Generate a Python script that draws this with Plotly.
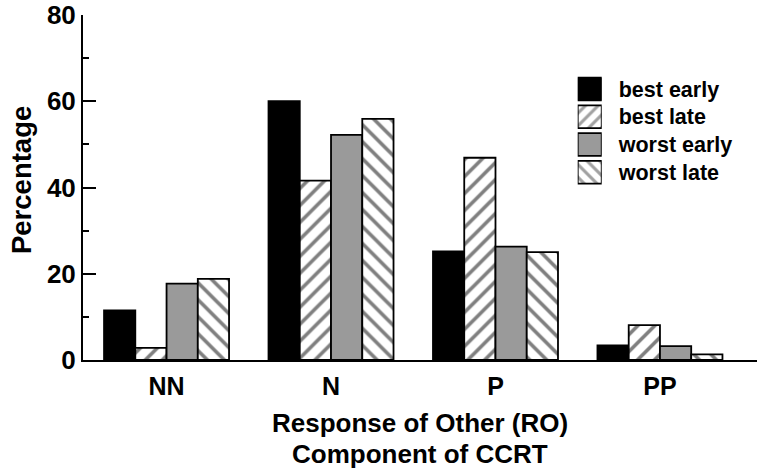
import plotly.graph_objects as go

# Response-of-Other components and the share (%) in each condition
categories = ["NN", "N", "P", "PP"]
series_names = ["best early", "best late", "worst early", "worst late"]
best_early = [11.5, 60.0, 25.2, 3.4]
best_late = [2.8, 41.6, 46.9, 8.1]
worst_early = [17.7, 52.2, 26.3, 3.2]
worst_late = [18.8, 55.9, 25.0, 1.3]
y_ticks = [0, 20, 40, 60, 80]
x_title_lines = ["Response of Other (RO)", "Component of CCRT"]
y_title = "Percentage"

values = [best_early, best_late, worst_early, worst_late]
fills = ["black", "white", "#9a9a9a", "white"]
patterns = ["", "/", "", "\\"]

FONT = "Liberation Sans, Arial, Helvetica, sans-serif"

fig = go.Figure()

for name, vals, fill, pat in zip(series_names, values, fills, patterns):
    fig.add_trace(go.Bar(
        x=categories, y=vals, name=name, showlegend=False,
        marker=dict(
            color=fill,
            line=dict(color="black", width=1.8),
            pattern=dict(shape=pat, fgcolor="black", bgcolor="white",
                         size=12, solidity=0.3, fillmode="overlay"),
        ),
    ))

# Key drawn as large swatches on a small inset axis, names as its tick labels
fig.add_trace(go.Bar(
    x=[1, 1, 1, 1], y=series_names, orientation="h",
    xaxis="x2", yaxis="y2", showlegend=False, width=0.82,
    marker=dict(
        color=fills,
        line=dict(color="black", width=1.8),
        pattern=dict(shape=patterns, fgcolor="black", bgcolor="white",
                     size=9, solidity=0.35, fillmode="overlay"),
    ),
    hoverinfo="skip",
))

# Two-line x-axis title, one annotation per line
for line_text, ypos in zip(x_title_lines, [-0.183, -0.2723]):
    fig.add_annotation(
        text=line_text, xref="paper", yref="paper", x=0.5, y=ypos,
        xanchor="center", yanchor="middle", showarrow=False,
        font=dict(size=26, weight="bold", family=FONT, color="black"),
    )

# Rotated y-axis title
fig.add_annotation(
    text=y_title, xref="paper", yref="paper", x=-0.092, y=0.5216,
    xanchor="center", yanchor="middle", textangle=-90, showarrow=False,
    font=dict(size=27.5, weight="bold", family=FONT, color="black"),
)

fig.update_layout(
    width=757, height=472,
    margin=dict(l=83, r=0, t=13, b=112),
    paper_bgcolor="white", plot_bgcolor="white",
    barmode="group", bargap=0.24, bargroupgap=0.0,
    font=dict(family=FONT, color="black"),
    xaxis=dict(
        type="category", range=[-0.508, 3.59],
        showline=True, linecolor="black", linewidth=2,
        ticks="", showgrid=False, zeroline=False,
        tickfont=dict(size=25, weight="bold"),
        ticklabelstandoff=3,
    ),
    yaxis=dict(
        range=[0, 80.001], tickvals=y_ticks,
        showline=True, linecolor="black", linewidth=2,
        ticks="inside", ticklen=13, tickwidth=2, tickcolor="black",
        minor=dict(dtick=10, ticks="inside", ticklen=6, tickwidth=2,
                   tickcolor="black"),
        showgrid=False, zeroline=False,
        tickfont=dict(size=26, weight="bold"),
        ticklabelstandoff=0, ticklabeloverflow="allow",
    ),
    xaxis2=dict(domain=[0.734, 0.7696], range=[0, 1], anchor="y2",
                visible=False, fixedrange=True),
    yaxis2=dict(domain=[0.5039, 0.8255], anchor="x2", side="right",
                autorange="reversed", type="category",
                showline=False, showgrid=False, zeroline=False, ticks="",
                tickfont=dict(size=21.5, weight="bold"),
                ticklabelstandoff=16, fixedrange=True),
)

fig.write_html("out.html")
